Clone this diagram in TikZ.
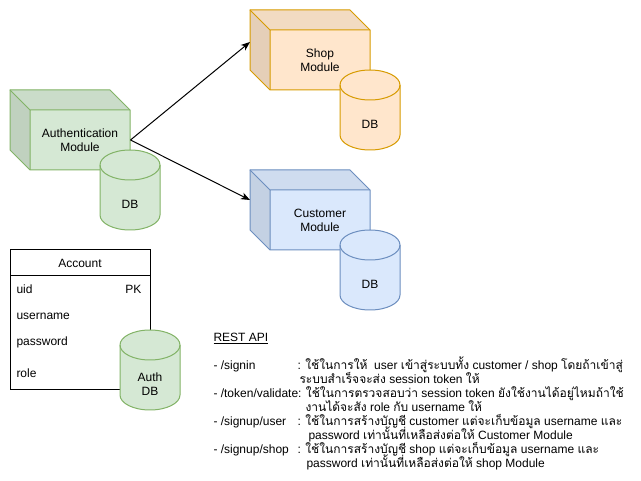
\documentclass[tikz,border=0pt]{standalone}
\usepackage{fontspec}
\setmainfont{Liberation Sans}
\newfontfamily\thaifont[Script=Thai]{Loma}
\newcommand{\thai}[1]{{\thaifont #1}}
\usetikzlibrary{arrows.meta}
\definecolor{fillauth}{HTML}{D5E8D4}
\definecolor{lineauth}{HTML}{82B366}
\definecolor{fillshop}{HTML}{FFE6CC}
\definecolor{lineshop}{HTML}{D79B00}
\definecolor{fillcust}{HTML}{DAE8FC}
\definecolor{linecust}{HTML}{6C8EBF}
\begin{document}
\begin{tikzpicture}[x=1pt, y=-1pt, line width=1pt, font=\fontsize{12}{14}\selectfont,
  face/.style={minimum width=100pt, minimum height=60pt, inner sep=0pt, align=center},
  api/.style={anchor=base west, inner sep=0pt},
  link/.style={-{Stealth[length=9pt, width=7pt, inset=2.5pt]}}]
\useasboundingbox (0,0) rectangle (641,481);
\foreach \x/\y/\c in {10/90/auth, 250/10/shop, 250/170/cust} {
  \fill[fill\c] (\x,\y) -- ++(100,0) -- ++(20,20) -- ++(0,60) -- ++(-100,0) -- ++(-20,-20) -- cycle;
  \fill[fill\c!95!black] (\x,\y) -- ++(100,0) -- ++(20,20) -- ++(-100,0) -- cycle;
  \fill[fill\c!90!black] (\x,\y) -- ++(20,20) -- ++(0,60) -- ++(-20,-20) -- cycle;
  \draw[line\c] (\x,\y) -- ++(100,0) -- ++(20,20) -- ++(0,60) -- ++(-100,0) -- ++(-20,-20) -- cycle;
  \draw[line\c] (\x,\y) -- ++(20,20) -- ++(100,0) (\x+20,\y+20) -- ++(0,60);
}
\filldraw[fill=white] (10,250) rectangle (150,390);
\draw (10,276) -- (150,276);
\foreach \x/\y/\c in {100/150/auth, 340/70/shop, 340/230/cust, 120/330/auth} {
  \filldraw[fill=fill\c, draw=line\c] (\x,\y+15) -- ++(0,50)
    arc[start angle=180, end angle=0, x radius=30, y radius=15] -- ++(0,-50)
    arc[start angle=0, end angle=-180, x radius=30, y radius=15] -- cycle;
  \draw[line\c] (\x,\y+15) arc[start angle=180, end angle=0, x radius=30, y radius=15];
}
\node[face] (auth) at (80,140) {Authentication\\Module};
\node[face] (shop) at (320,60) {Shop\\Module};
\node[face] (cust) at (320,220) {Customer\\Module};
\node (authdb) at (130,204) {DB};
\node (shopdb) at (370,124) {DB};
\node (custdb) at (370,284) {DB};
\node[align=center] (accdb) at (150,384) {Auth\\DB};
\coordinate (shopin) at (250,42);
\coordinate (custin) at (250,200);
\draw[link] (auth.east) -- (shopin);
\draw[link] (auth.east) -- (custin);
\node[anchor=base] (account) at (80,268) {Account};
\node[api] (uid) at (16,294) {uid};
\node[anchor=base east, inner sep=0pt] (pk) at (142,294) {PK};
\node[api] (uname) at (16,320) {username};
\node[api] (pwd) at (16,346) {password};
\node[api] (role) at (16,378) {role};
\node[api] (rest) at (213,342) {\underline{REST API}};
\node[api] (signin) at (213,370) {- /signin};
\node[api] (signina) at (297,370) {: \thai{ใช้ในการให้}\ \ user \thai{เข้าสู่ระบบทั้ง} customer / shop \thai{โดยถ้าเข้าสู่}};
\node[api] (signinb) at (299,384) {\thai{ระบบสำเร็จจะส่ง} session token \thai{ให้}};
\node[api] (token) at (213,398) {- /token/validate: \thai{ใช้ในการตรวจสอบว่า} session token \thai{ยังใช้งานได้อยู่ไหมถ้าใช้}};
\node[api] (tokenb) at (305,412) {\thai{งานได้จะสัง} role \thai{กับ} username \thai{ให้}};
\node[api] (user) at (213,426) {- /signup/user};
\node[api] (usera) at (297,426) {: \thai{ใช้ในการสร้างบัญชี} customer \thai{แต่จะเก็บข้อมูล} username \thai{และ}};
\node[api] (userb) at (308,440) {password \thai{เท่านั้นที่เหลือส่งต่อให้} Customer Module};
\node[api] (shopapi) at (213,454) {- /signup/shop};
\node[api] (shopa) at (297,454) {: \thai{ใช้ในการสร้างบัญชี} shop \thai{แต่จะเก็บข้อมูล} username \thai{และ}};
\node[api] (shopb) at (306,468) {password \thai{เท่านั้นที่เหลือส่งต่อให้} shop Module};
\end{tikzpicture}
\end{document}
